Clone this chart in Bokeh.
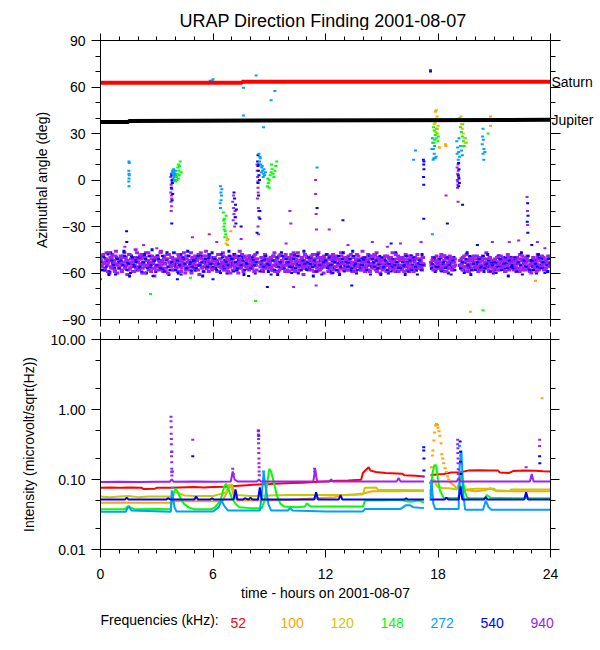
import math
from bokeh.plotting import figure
from bokeh.models import LinearAxis, LogAxis, FixedTicker, PrintfTickFormatter, Label, Range1d
from bokeh.layouts import column
from bokeh.embed import file_html
from bokeh.resources import INLINE

FONT = "Liberation Sans"

# ---------------- data ----------------
freqs = ["52", "100", "120", "148", "272", "540", "940"]
colors = ["#ff0000", "#ffa500", "#c8c800", "#00ff00", "#00a0ff", "#0000ff", "#a020f0"]

# Saturn / Jupiter directions (hour, deg)
saturn = [(0, 62.7), (7.55, 62.7), (7.55, 63.4), (24, 63.4)]
jupiter = [(0, 37.5), (1.5, 37.5), (1.5, 38.1), (24, 38.8)]

# 940 kHz band, one row per hour, 0.05 h apart (None = no data)
purple_band = [
    [-52,-56,-49,-54,-58,-51,-47,-55,-53,-60,-50,-57,-48,-54,-52,-59,-46,-55,-51,-57],
    [-53,-49,-58,-55,-50,-47,-56,-52,-61,-54,-48,-57,-51,-53,-59,-50,-55,-45,-52,-56],
    [-57,-51,-54,-48,-60,-53,-50,-56,-47,-55,-52,-58,-49,-54,-51,-57,-53,-62,-50,-55],
    [-49,-55,-52,-58,-46,-53,-57,-50,-54,-59,-51,-48,-56,-53,-55,-50,-58,-52,-47,-54],
    [-56,-52,-59,-50,-54,-48,-57,-53,-51,-55,-60,-49,-53,-56,-52,-58,-47,-54,-51,-57],
    [-53,-58,-50,-55,-48,-61,-54,-51,-57,-49,-52,-56,-46,-55,-53,-59,-50,-54,-57,-52],
    [-50,-54,-57,-52,-59,-48,-55,-51,-56,-53,-47,-58,-52,-55,-50,-57,-54,-49,-60,-53],
    [-55,-51,-48,-56,-53,-58,-50,-54,-46,-57,-52,-55,-59,-49,-53,-56,-51,-54,-58,-50],
    [-52,-57,-54,-49,-55,-51,-58,-53,None,None,-56,-50,-54,-59,-52,-48,-55,-57,-51,-53],
    [-54,-50,-56,-52,-58,-47,-53,-55,-51,-59,-49,-54,-57,-52,-56,-50,-55,-48,-53,-58],
    [-51,-56,-53,-48,-57,-54,-50,-59,-52,-55,-47,-56,-53,-58,-50,-54,-61,-52,-55,-49],
    [-57,-53,-50,-55,-52,-58,-48,-54,-56,-51,-59,-53,-47,-55,-52,-57,-50,-54,-49,-56],
    [-53,-48,-55,-51,-57,-54,-60,-50,-53,-56,-52,-49,-58,-54,-51,-55,-47,-57,-53,-50],
    [-55,-52,-58,-54,-49,-56,-51,-53,-59,-50,-55,-57,-52,-48,-54,-56,-51,-58,-53,-46],
    [-50,-56,-53,-57,-52,-48,-55,-59,-51,-54,-56,-50,-53,-58,-47,-55,-52,-54,-60,-51],
    [-54,-51,-57,-49,-55,-53,-58,-50,-56,-52,-54,-47,-57,-53,-59,-51,-55,-49,-56,-52],
    [-52,-58,-50,-55,-53,-48,-56,-54,-51,-59,-53,-49,-55,-57,-52,-50,-58,-54,-56,-51],
    [-55,-52,-57,-50,-54,None,None,None,None,None,None,None,-53,-57,-50,-55,-52,-58,-49,-54],
    [-51,-56,-53,-48,-57,-54,-52,-59,-50,-55,-53,-57,-49,-54,-56,-51,-58,-53,-55,None],
    [None,None,None,-52,-57,-54,-50,-56,-53,-59,-48,-55,-52,-57,-51,-54,-58,-50,-53,-56],
    [-54,-49,-56,-52,-58,-53,-50,-55,-57,-51,-54,-47,-56,-53,-59,-50,-55,-52,-57,-54],
    [-51,-57,-53,-55,-49,-58,-52,-54,-56,-50,-53,-59,-51,-55,-48,-57,-54,-52,-56,-50],
    [-56,-52,-54,-59,-50,-53,-57,-48,-55,-52,-58,-51,-54,-56,-53,-49,-57,-52,-55,-60],
    [-53,-50,-55,-57,-52,-54,-48,-58,-51,-56,-53,-55,-50,-57,-54,-52,-59,-49,-55,-53],
]
purple_band2 = [
    [-50,-55,-58,-48,-53,-57,-51,-54,-59,-47,-52,-56,-50,-55,-53,-58,-49,-54,-60,-51],
    [-56,-51,-54,-59,-49,-53,-57,-50,-55,-52,-58,-48,-54,-56,-51,-53,-59,-50,-57,-47],
    [-53,-58,-49,-55,-51,-57,-54,-60,-50,-52,-56,-47,-55,-53,-59,-49,-54,-57,-51,-56],
    [-58,-50,-56,-53,-47,-55,-52,-59,-49,-54,-57,-51,-60,-48,-53,-56,-50,-55,-58,-52],
    [-51,-57,-53,-48,-56,-52,-59,-50,-55,-47,-54,-58,-51,-57,-49,-53,-56,-60,-50,-54],
    [-55,-49,-57,-52,-58,-50,-54,-47,-56,-53,-59,-51,-55,-49,-57,-52,-48,-56,-53,-58],
    [-57,-52,-50,-55,-53,-59,-48,-56,-51,-57,-54,-49,-58,-53,-55,-51,-59,-52,-56,-50],
    [-52,-58,-54,-50,-57,-49,-55,-60,-53,-51,-56,-48,-54,-58,-50,-55,-52,-57,-49,-56],
    [-54,-50,-57,-53,-59,-48,-55,-51,None,None,None,-53,-58,-50,-55,-57,-49,-54,-56,-52],
    [-57,-53,-51,-58,-49,-55,-59,-52,-56,-50,-54,-58,-48,-55,-53,-57,-51,-59,-50,-55],
    [-53,-59,-50,-55,-52,-58,-47,-54,-57,-51,-56,-49,-58,-52,-55,-50,-57,-53,-48,-56],
    [-50,-55,-58,-52,-56,-49,-54,-51,-59,-53,-48,-57,-55,-50,-58,-54,-52,-56,-60,-51],
    [-56,-52,-54,-59,-49,-57,-51,-55,-48,-58,-53,-56,-50,-55,-59,-52,-57,-49,-54,-58],
    [-51,-57,-50,-55,-58,-52,-56,-48,-54,-57,-50,-53,-59,-51,-56,-49,-55,-52,-58,-54],
    [-57,-53,-59,-50,-55,-52,-58,-51,-54,-49,-57,-55,-48,-56,-52,-59,-50,-57,-53,-56],
    [-52,-58,-50,-56,-53,-59,-49,-55,-51,-57,-50,-54,-58,-52,-55,-48,-57,-53,-59,-50],
    [-55,-50,-57,-52,-59,-51,-54,-58,-49,-55,-57,-52,-50,-56,-59,-53,-51,-55,-48,-57],
    [-51,-56,-53,-58,-50,-55,None,None,None,None,None,None,None,-55,-52,-58,-50,-56,-53,-57],
    [-57,-52,-55,-50,-58,-53,-56,-49,-55,-59,-51,-54,-57,-52,-50,-58,-53,-56,-51,None],
    [None,None,None,None,-55,-51,-58,-53,-49,-56,-52,-57,-54,-59,-50,-55,-52,-57,-49,-54],
    [-51,-57,-53,-59,-50,-55,-58,-52,-49,-56,-53,-57,-51,-54,-58,-50,-56,-52,-55,-59],
    [-57,-52,-56,-50,-58,-53,-55,-49,-57,-54,-51,-56,-59,-52,-55,-50,-58,-53,-57,-51],
    [-53,-58,-50,-56,-52,-57,-54,-59,-51,-55,-49,-57,-53,-58,-50,-56,-52,-55,-59,-54],
    [-58,-54,-51,-56,-53,-59,-50,-55,-57,-52,-56,-49,-54,-58,-51,-57,-53,-55,-50,-56],
]

# 540 kHz band, one row per hour, 0.1 h apart
blue_band = [
    [-55,-49,-58,-52,-61,-47,-54,-57,-50,-53],
    [-51,-59,-46,-56,-53,-62,-49,-55,-52,-58],
    [-57,-50,-54,-48,-60,-53,-56,-45,-52,-59],
    [-49,-56,-52,-58,-54,-47,-61,-53,-50,-55],
    [-53,-60,-48,-55,-51,-57,-46,-54,-59,-52],
    [-58,-51,-55,-49,-62,-53,-57,-50,-54,-47],
    [-50,-57,-53,-59,-48,-55,-52,-60,-46,-56],
    [-54,-48,-58,-52,-56,-50,-61,-53,-57,-49],
    [-56,-52,-60,-47,None,-54,-58,-51,-55,-59],
    [-52,-58,-49,-55,-61,-53,-47,-57,-50,-54],
    [-59,-51,-56,-48,-54,-60,-52,-55,-46,-57],
    [-53,-57,-50,-62,-55,-49,-58,-52,-56,-51],
    [-48,-55,-59,-52,-57,-50,-54,-61,-53,-47],
    [-56,-50,-53,-58,-46,-55,-60,-52,-57,-51],
    [-52,-59,-55,-49,-56,-53,-48,-58,-54,-61],
    [-57,-51,-54,-60,-50,-56,-52,-47,-59,-55],
    [-50,-56,-61,-53,-57,-49,-55,-52,-58,-54],
    [-55,-48,None,None,None,None,-57,-51,-59,-53],
    [-52,-58,-54,-49,-56,-60,-53,-57,-50,None],
    [None,-55,-51,-58,-53,-47,-56,-61,-52,-57],
    [-54,-50,-57,-52,-59,-55,-48,-56,-53,-60],
    [-58,-53,-49,-56,-51,-57,-54,-62,-50,-55],
    [-51,-57,-54,-59,-47,-53,-56,-50,-58,-52],
    [-56,-52,-60,-48,-55,-51,-57,-53,-59,-54],
]
blue_band2 = [
    [-53,-58,-50,-56,-48,-59,-52,-55,-61,-51],
    [-57,-52,-55,-49,-58,-54,-60,-50,-56,-53],
    [-50,-56,-59,-53,-51,-57,-49,-55,-62,-52],
    [-55,-51,-57,-49,-59,-52,-56,-58,-53,-47],
    [-58,-52,-55,-61,-50,-54,-57,-49,-53,-56],
    [-52,-57,-49,-55,-53,-59,-51,-56,-48,-54],
    [-56,-51,-58,-54,-60,-50,-57,-53,-55,-49],
    [-51,-59,-53,-57,-49,-55,-52,-58,-54,-62],
    [-57,-50,-55,-53,None,-59,-52,-56,-49,-54],
    [-55,-61,-52,-58,-50,-56,-53,-49,-57,-51],
    [-53,-56,-60,-51,-57,-49,-55,-58,-52,-54],
    [-58,-50,-54,-56,-52,-59,-48,-55,-61,-53],
    [-52,-57,-50,-55,-60,-53,-58,-49,-56,-51],
    [-59,-53,-56,-51,-57,-49,-54,-58,-52,-55],
    [-55,-50,-58,-53,-61,-51,-56,-52,-57,-49],
    [-50,-56,-52,-58,-54,-59,-51,-55,-53,-57],
    [-57,-53,-55,-49,-59,-52,-58,-50,-56,-61],
    [-52,-58,-55,None,None,None,None,-54,-50,-56],
    [-56,-51,-59,-53,-57,-50,-55,-61,-52,-58],
    [None,None,-57,-53,-60,-51,-55,-49,-58,-54],
    [-58,-53,-51,-56,-49,-57,-54,-52,-59,-55],
    [-53,-60,-56,-51,-58,-54,-50,-57,-52,-56],
    [-57,-50,-59,-53,-55,-61,-52,-56,-49,-58],
    [-52,-58,-54,-56,-50,-57,-53,-60,-55,-51],
]

# other direction-finding points (hour, deg)
pts_272 = [
    (1.52,12),(1.53,11),(1.51,6),(1.52,4),(1.53,3),(1.52,1),(1.51,-1),(1.52,-4),
    (3.85,6),(3.88,4),(3.9,3),(3.92,5),(3.95,2),(3.97,4),(4.0,6),(3.87,1),(4.02,3),(3.83,5),(3.9,7),(3.95,0),
    (6.4,-4),(6.42,-8),(6.45,-10),(6.38,-15),(6.4,-18),(6.43,-13),(6.47,-6),
    (8.45,17),(8.5,15),(8.48,12),(8.55,10),(8.6,8),(8.65,6),(8.7,4),(8.75,3),(8.62,9),(8.52,14),(8.58,5),(8.68,2),(8.8,5),(8.72,7),
    (5.85,64),(5.95,64),(6.0,65),(7.6,63),(7.62,59.5),(7.62,41.6),(8.3,67.4),(8.7,34),(9.1,51.5),(9.3,57.4),(11.55,8),(16.8,19),(16.7,13),(17.7,-35),
    (17.7,27),(17.72,24),(17.75,20),(17.8,17),(17.78,14),(17.85,14),(17.82,22),(17.9,15),(17.74,13),(17.68,20),
    (19.0,25),(19.05,21),(19.1,18),(19.15,15),(19.08,13),(19.2,22),(19.25,19),(19.12,27),(19.3,16),(19.02,17),
    (20.4,33),(20.38,28),(20.42,26),(20.36,23),(20.45,20),(20.4,17),(20.44,13),(20.5,18),
]
pts_148 = [
    (4.0,-1),(4.05,2),(4.1,4),(4.12,8),(4.15,10),(4.18,6),(4.2,3),(4.25,12),(4.08,0),(4.3,5),(4.15,1),(4.22,9),
    (6.55,-21),(6.6,-25),(6.62,-28),(6.58,-30),(6.65,-33),(6.6,-32),(6.68,-35),(6.7,-23),(6.63,-37),(6.57,-26),
    (8.9,-4),(8.95,-2),(9.0,0),(9.05,3),(9.1,5),(9.15,7),(9.2,4),(9.25,2),(9.3,6),(9.35,9),(9.4,12),(8.92,1),(9.0,-5),(9.12,10),
    (17.76,34),(17.8,32),(17.85,29),(17.9,27),(17.95,30),(18.0,25),(17.82,26),(17.92,33),(18.02,28),(17.78,24),
    (19.2,34),(19.25,31),(19.3,28),(19.35,25),(19.28,22),(19.4,22),(19.45,27),(19.5,24),(19.32,36),
    (2.67,-73.5),(4.8,-63),(8.27,-78),(8.7,63),(20.4,-84),(20.67,30),
]
pts_120 = [
    (6.72,-37),(6.75,-39),(6.7,-41),
    (17.8,36),(17.85,37),(17.98,33),(17.88,31),(18.07,21),(17.93,39),(18.0,35),
    (19.15,40),(19.2,38),(19.25,36),(19.3,33),(19.35,30),(19.4,27),(19.22,41),(19.45,24),
]
pts_100 = [
    (6.95,-33),(6.8,-38),(6.78,-42),
    (17.87,44),(17.9,45),(18.04,38),(18.4,23),(18.42,22),(18.07,21),(17.95,41),
    (20.8,41),(20.8,35),(19.73,-85),(23.2,-65),
]
pts_940 = [
    (3.75,2),(3.77,-3),(3.8,-6),(3.78,-10),(3.76,-14),(3.79,-17),(3.77,-20),(3.8,0),(3.82,-1),(3.75,-8),(3.78,4),(3.8,-12),
    (7.05,-14),(7.1,-18),(7.12,-22),(7.08,-26),(7.15,-30),(7.2,-24),(7.1,-10),(7.18,-20),
    (8.35,10),(8.38,2),(8.4,-5),(8.37,-12),(8.42,-18),(8.45,-24),(8.4,-30),(8.43,-35),(8.36,6),(8.39,-1),(8.41,-8),
    (19.02,8),(19.05,4),(19.03,0),(19.06,-3),(19.04,-5),(19.08,6),(19.1,2),(19.05,-1),(19.07,10),
    (22.75,-11),(22.78,-29),(22.77,-20),
    (0.0,-64),(1.3,-43),(2.3,-42),(3.0,-44),(4.9,-37),(5.8,-35),(6.2,-40),(7.5,-38),(9.9,-41),(10.1,-20),(10.15,-28),
    (10.3,-69),(11.5,-68),(11.47,0),(11.47,-9),(11.5,-22),(11.52,-32),(12.2,-32),(13.2,-42),(14.5,-40),(15.3,-43),
    (16.0,-41),(17.1,-40),(18.43,-10),(19.07,-14),(20.9,-40),(21.8,-40),(22.3,-39),(23.3,-40),(23.7,-44),(17.6,71),
]
pts_540 = [
    (3.8,3),(3.83,-2),(3.78,-5),(3.85,-9),(3.8,-28),(3.82,-13),(3.84,0),
    (7.12,-8),(7.15,-12),(7.2,-16),(7.18,-24),(7.22,-28),(7.25,-19),
    (8.38,12),(8.4,9),(8.42,6),(8.45,3),(8.4,-2),(8.43,-10),(8.45,-20),(8.5,-25),(8.48,0),(8.44,10),(8.4,16),
    (17.22,13),(17.24,10),(17.25,7),(17.23,2),(17.24,-3),(17.25,12),
    (19.1,11),(19.12,7),(19.08,3),(19.14,-2),(19.1,-4),(19.12,1),
    (22.78,-15),(22.8,-23),(22.79,-34),(22.76,-27),
    (1.39,-33),(1.4,-40),(4.1,-64),(6.0,-64),(7.5,-30),(8.35,-34),(8.5,-20),(8.9,-69),(11.55,-18),(12.93,-26),
    (13.4,-68),(15.5,-41),(17.24,-25),(18.5,-28),(19.31,-16),(20.1,-42),(23.0,-42),(17.6,70),
]

# intensity time series (hour, microvolt/sqrt(Hz)); None = data gap
int_52 = [(0,0.076),(0.5,0.077),(1,0.076),(1.6,0.077),(2.2,0.076),(2.3,0.073),(2.9,0.074),(3.0,0.076),(3.7,0.076),
          (4.2,0.077),(5,0.078),(5.5,0.077),(6,0.078),(6.6,0.079),(7.2,0.081),(7.8,0.083),(8.4,0.085),(9,0.086),
          (9.6,0.088),(10.2,0.089),(10.8,0.09),(11.4,0.092),(12,0.094),(12.6,0.096),(13.2,0.097),(13.9,0.099),
          (14.0,0.125),(14.3,0.15),(14.4,0.134),(14.7,0.128),(15.2,0.124),(15.8,0.122),(16.1,0.121),(16.2,0.115),
          (16.8,0.113),(17.25,0.11),(17.4,None),(17.6,0.115),(17.9,0.118),(18.3,0.12),(18.7,0.126),(19.2,0.127),
          (19.6,0.134),(20.2,0.136),(20.8,0.135),(21.2,0.134),(21.3,0.126),(21.8,0.124),(22.0,0.132),(22.6,0.134),
          (23.2,0.133),(23.6,0.131),(24,0.13)]
int_100 = [(0,0.0465),(1,0.047),(2,0.0465),(3,0.0465),(3.75,0.0465),(3.9,0.049),(4.5,0.049),(5.5,0.049),(6.5,0.049),
           (6.8,0.07),(6.95,0.085),(7.1,0.06),(7.3,0.05),(8,0.05),(9,0.05),(10,0.051),(10.5,0.052),(11,0.053),
           (12,0.055),(12.5,0.056),(13.0,0.06),(13.5,0.061),(14.0,0.063),(14.5,0.068),(15,0.068),(16,0.068),
           (17,0.069),(17.25,0.068),(17.4,None),(18.6,0.092),(18.8,0.085),(19.0,0.075),(19.5,0.07),(20,0.068),
           (20.5,0.07),(20.8,0.075),(21,0.07),(22,0.068),(23,0.068),(24,0.068)]
peak_100 = [(17.6,0.09),(17.65,0.15),(17.7,0.22),(17.73,0.26),(17.78,0.36),(17.82,0.47),(17.87,0.59),(17.92,0.62),
            (17.97,0.6),(18.0,0.55),(18.05,0.49),(18.1,0.42),(18.16,0.33),(18.2,0.23),(18.25,0.2),(18.3,0.17),
            (18.38,0.145),(18.45,0.128),(18.52,0.11),(18.57,0.1)]
int_120 = [(0,0.057),(0.5,0.056),(1,0.057),(1.5,0.058),(2,0.056),(2.5,0.057),(3,0.057),(3.75,0.057),(3.85,0.06),
           (3.95,0.066),(4.2,0.063),(4.5,0.059),(5,0.058),(6,0.058),(6.7,0.065),(6.85,0.083),(7.0,0.085),(7.15,0.065),
           (7.3,0.06),(8,0.058),(9,0.059),(10,0.06),(11,0.06),(12,0.06),(13,0.06),(14.0,0.061),(14.1,0.076),
           (14.7,0.077),(14.8,0.071),(16,0.071),(17,0.07),(17.25,0.07),(17.4,None),(17.6,0.065),(17.7,0.09),
           (17.8,0.1),(17.9,0.085),(18.0,0.078),(18.3,0.075),(18.6,0.075),(19.0,0.072),(19.1,0.085),(19.3,0.075),
           (19.5,0.072),(20,0.074),(21,0.074),(21.1,0.068),(21.8,0.068),(21.9,0.072),(23,0.072),(24,0.072)]
int_148 = [(0,0.0376),(1.3,0.0376),(1.45,0.041),(1.6,0.04),(1.8,0.0376),(3.0,0.038),(3.75,0.0376),(3.85,0.06),
           (4.0,0.074),(4.1,0.068),(4.25,0.055),(4.45,0.045),(4.7,0.04),(5.0,0.0376),(5.9,0.0376),(6.1,0.04),
           (6.4,0.05),(6.6,0.08),(6.7,0.087),(6.85,0.07),(7.0,0.055),(7.2,0.045),(7.4,0.04),(8.0,0.039),(8.6,0.039),
           (8.75,0.05),(8.9,0.09),(9.0,0.142),(9.1,0.13),(9.25,0.09),(9.4,0.06),(9.6,0.045),(9.8,0.041),(10.5,0.04),
           (10.9,0.041),(11.0,0.046),(11.2,0.041),(12,0.041),(13,0.041),(14.0,0.041),(14.1,0.05),(15,0.05),
           (16,0.051),(16.5,0.048),(17,0.05),(17.25,0.047),(17.4,None),(17.6,0.06),(17.7,0.12),(17.8,0.16),
           (17.9,0.16),(18.0,0.1),(18.1,0.07),(18.3,0.055),(18.8,0.054),(19.1,0.055),(19.25,0.12),(19.35,0.09),
           (19.45,0.065),(19.55,0.055),(19.7,0.054),(20.5,0.054),(20.6,0.06),(20.8,0.055),(22,0.054),(23,0.054),(24,0.054)]
int_272 = [(0,0.0346),(1.35,0.0346),(1.5,0.042),(1.65,0.036),(3.75,0.0346),(3.8,0.07),(3.95,0.04),(4.05,0.035),
           (6,0.035),(6.3,0.04),(6.45,0.05),(6.6,0.042),(6.8,0.036),(8.5,0.036),(8.6,0.06),(8.7,0.128),(8.8,0.08),
           (8.95,0.045),(9.1,0.036),(10.0,0.036),(10.1,0.039),(10.25,0.036),(12,0.035),(14.0,0.035),(14.1,0.038),
           (16.0,0.038),(16.3,0.043),(16.5,0.043),(16.7,0.04),(17.25,0.039),(17.4,None),(17.6,0.05),(17.65,0.1),
           (17.75,0.045),(17.85,0.038),(19.1,0.038),(19.15,0.15),(19.25,0.26),(19.35,0.06),(19.45,0.037),
           (20.4,0.037),(20.55,0.05),(20.7,0.04),(20.85,0.037),(24,0.037)]
int_540 = [(0,0.0516),(1.3,0.0516),(1.4,0.055),(1.5,0.0516),(3.5,0.0516),(3.6,0.054),(3.75,0.0516),(3.85,0.0516),
           (5.0,0.0516),(5.1,0.057),(5.2,0.0516),(5.85,0.0516),(5.95,0.054),(6.05,0.0516),(7.1,0.0516),(7.2,0.072),
           (7.3,0.0516),(7.6,0.0516),(7.7,0.054),(7.9,0.0516),(8.0,0.055),(8.1,0.0516),(8.4,0.0516),(8.5,0.077),
           (8.6,0.0516),(9.0,0.0516),(11.4,0.0516),(11.5,0.066),(11.6,0.0516),(12.7,0.0516),(12.8,0.06),(12.9,0.0516),
           (16.2,0.0516),(16.3,0.054),(16.4,0.0516),(17.25,0.0516),(17.4,None),(17.6,0.0516),(18.35,0.0516),
           (18.45,0.055),(18.55,0.0516),(19.1,0.0516),(19.2,0.08),(19.3,0.0516),(20.45,0.0516),(20.55,0.056),
           (20.65,0.0516),(22.6,0.0516),(22.7,0.066),(22.8,0.0516),(24,0.0516)]
int_940 = [(0,0.092),(1,0.093),(2,0.092),(3,0.093),(3.7,0.093),(3.8,0.1),(3.9,0.093),(5,0.094),(6,0.093),(6.95,0.094),
           (7.05,0.13),(7.15,0.1),(7.3,0.094),(8,0.094),(8.35,0.094),(8.45,0.1),(8.55,0.094),(9.5,0.094),(11.35,0.094),
           (11.45,0.14),(11.55,0.094),(12.2,0.094),(12.3,0.1),(12.4,0.094),(15.8,0.094),(15.9,0.105),(16.0,0.094),
           (17.25,0.094),(17.4,None),(17.6,0.094),(19.0,0.094),(19.1,0.105),(19.2,0.094),(22.9,0.094),(23.0,0.12),
           (23.1,0.094),(24,0.094)]
spk_940 = [(3.76,0.79),(3.76,0.68),(3.77,0.56),(3.77,0.45),(3.78,0.38),(3.78,0.32),(3.79,0.25),(3.79,0.215),
           (3.8,0.176),(3.8,0.142),(3.81,0.128),(3.81,0.114),(4.92,0.37),(8.42,0.49),(8.42,0.44),(8.43,0.38),
           (8.43,0.33),(8.44,0.28),(8.44,0.24),(8.45,0.2),(8.45,0.17),(8.46,0.15),(8.46,0.13),(8.47,0.115),
           (11.42,0.142),(11.42,0.13),(19.05,0.37),(19.05,0.32),(19.06,0.28),(19.06,0.24),(19.07,0.2),(19.07,0.17),
           (19.08,0.14),(19.08,0.12),(23.42,0.37),(23.42,0.3),(7.05,0.142),(7.08,0.12),(17.22,0.11),(22.7,0.15)]
spk_540 = [(3.8,0.25),(3.82,0.13),(4.92,0.215),(8.42,0.5),(8.44,0.42),(17.24,0.29),(17.24,0.26),(17.25,0.2),
           (17.25,0.134),(19.18,0.35),(19.2,0.25),(19.2,0.18),(19.22,0.12),(23.42,0.215),(23.43,0.17)]
spk_272 = [(3.85,0.076),(3.86,0.06),(8.7,0.13),(19.15,0.3),(19.2,0.22),(17.62,0.09),(17.63,0.07)]
spk_120 = [(23.55,1.45)]

x_major = [0, 6, 12, 18, 24]
y_major = [-90, -60, -30, 0, 30, 60, 90]
log_major = [0.01, 0.1, 1, 10]
log_minor = [0.02, 0.05, 0.2, 0.5, 2, 5]


def xy(pairs):
    xs = [p[0] for p in pairs]
    ys = [float("nan") if p[1] is None else p[1] for p in pairs]
    return xs, ys


def band_xy(rows, step, offset):
    xs, ys = [], []
    for h, row in enumerate(rows):
        for i, v in enumerate(row):
            if v is not None:
                xs.append(h + i * step + offset)
                ys.append(v)
    return xs, ys


def style(ax, labels=True, mo=9, mi=5):
    ax.axis_line_color = "black"
    ax.major_tick_line_color = "black"
    ax.minor_tick_line_color = "black"
    ax.major_tick_in = 0
    ax.minor_tick_in = 0
    ax.major_tick_out = mo
    ax.minor_tick_out = mi
    ax.major_label_text_font = FONT
    ax.major_label_text_font_size = "14px"
    ax.major_label_text_color = "black"
    ax.axis_label_text_font = FONT
    ax.axis_label_text_font_size = "14px"
    ax.axis_label_text_font_style = "normal"
    ax.axis_label_text_color = "black"
    if not labels:
        ax.major_label_text_font_size = "1px"
        ax.major_label_text_alpha = 0
        ax.major_label_standoff = 0


def dots(p, xs, ys, c, w=3, h=2):
    p.rect(xs, ys, width=w, height=h, width_units="screen", height_units="screen",
           fill_color=c, line_color=None)


def text_strip(height):
    f = figure(width=600, height=height, min_border=0, x_range=Range1d(0, 600), y_range=Range1d(0, height),
               x_axis_location=None, y_axis_location=None, output_backend="svg", toolbar_location=None)
    f.outline_line_color = None
    f.grid.visible = False
    f.frame_align = False
    return f


# ---------------- title strip ----------------
t_fig = text_strip(30)
t_fig.add_layout(Label(x=325, y=10, x_units="screen", y_units="screen",
                       text="URAP Direction Finding  2001-08-07", text_font=FONT, text_font_size="18px",
                       text_baseline="alphabetic", text_align="center", text_color="black"))

# ---------------- top panel ----------------
p1 = figure(frame_width=450, frame_height=279, min_border_left=100, min_border_right=50,
            min_border_top=10, min_border_bottom=10, x_range=Range1d(0, 24), y_range=Range1d(-90, 90),
            x_axis_location=None, y_axis_location=None, output_backend="svg", toolbar_location=None)
p1.outline_line_color = "black"
p1.grid.visible = False

xt = FixedTicker(ticks=x_major, minor_ticks=list(range(0, 25)))
yt = FixedTicker(ticks=y_major, minor_ticks=list(range(-90, 91, 10)))
ax = LinearAxis(ticker=yt, axis_label="Azimuthal angle (deg)")
style(ax); ax.major_label_standoff = 6; ax.axis_label_standoff = 9
p1.add_layout(ax, "left")
ax = LinearAxis(ticker=yt); style(ax, labels=False, mo=10); p1.add_layout(ax, "right")
ax = LinearAxis(ticker=xt); style(ax, labels=False, mo=7, mi=4); p1.add_layout(ax, "above")
ax = LinearAxis(ticker=xt); style(ax, labels=False, mo=7, mi=4); p1.add_layout(ax, "below")

# planet names, written as labels of a tick-less right axis
planet_y = [saturn[-1][1], jupiter[-1][1]]
ax = LinearAxis(ticker=FixedTicker(ticks=planet_y, minor_ticks=[]),
                major_label_overrides={planet_y[0]: "Saturn", planet_y[1]: "Jupiter"})
style(ax, mo=0, mi=0)
ax.axis_line_color = None
ax.major_label_standoff = -9
p1.add_layout(ax, "right")

bx, by = band_xy(purple_band, 0.05, 0.025)
dots(p1, bx, by, colors[6], 4, 3)
bx, by = band_xy(blue_band, 0.1, 0.05)
dots(p1, bx, by, colors[5], 3, 3)
bx, by = band_xy(purple_band2, 0.05, 0.0)
dots(p1, bx, by, colors[6], 4, 3)
bx, by = band_xy(blue_band2, 0.1, 0.0)
dots(p1, bx, by, colors[5], 3, 2)
for pts, c in [(pts_940, colors[6]), (pts_540, colors[5]), (pts_272, colors[4]), (pts_148, colors[3]),
               (pts_120, colors[2]), (pts_100, colors[1])]:
    xs, ys = xy(pts)
    dots(p1, xs, ys, c)

xs, ys = xy(saturn)
p1.line(xs, ys, line_color="#ff0000", line_width=4)
xs, ys = xy(jupiter)
p1.line(xs, ys, line_color="black", line_width=4)

# ---------------- bottom panel ----------------
p2 = figure(frame_width=450, frame_height=210, min_border_left=100, min_border_right=50,
            min_border_top=10, min_border_bottom=58, x_range=Range1d(0, 24), y_range=Range1d(0.01, 10),
            y_axis_type="log", x_axis_location=None, y_axis_location=None,
            output_backend="svg", toolbar_location=None)
p2.outline_line_color = "black"
p2.grid.visible = False

lt = FixedTicker(ticks=log_major, minor_ticks=log_minor)
ax = LogAxis(ticker=lt, formatter=PrintfTickFormatter(format="%.2f"),
             axis_label="Intensity (microvolt/sqrt(Hz))")
style(ax); ax.major_label_standoff = 6; ax.axis_label_standoff = 10
p2.add_layout(ax, "left")
ax = LogAxis(ticker=lt); style(ax, labels=False); p2.add_layout(ax, "right")
ax = LinearAxis(ticker=xt); style(ax, labels=False, mo=7, mi=4); p2.add_layout(ax, "above")
ax = LinearAxis(ticker=xt, axis_label="time - hours on 2001-08-07")
style(ax, mo=8, mi=4); ax.major_label_standoff = 11; ax.axis_label_standoff = 3
p2.add_layout(ax, "below")

series = [int_52, int_100, int_120, int_148, int_272, int_540, int_940]
for s, c in zip(series, colors):
    xs, ys = xy(s)
    p2.line(xs, ys, line_color=c, line_width=2)
for pts, c in [(peak_100, colors[1]), (spk_120, colors[2]), (spk_272, colors[4]), (spk_540, colors[5]),
               (spk_940, colors[6])]:
    xs, ys = xy(pts)
    dots(p2, xs, ys, c)

# ---------------- frequency key strip ----------------
k_fig = text_strip(35)
k_fig.add_layout(Label(x=100, y=15, x_units="screen", y_units="screen", text="Frequencies (kHz):",
                       text_font=FONT, text_font_size="14px", text_color="black"))
for i, (f, c) in enumerate(zip(freqs, colors)):
    k_fig.add_layout(Label(x=230 + 50 * i, y=15, x_units="screen", y_units="screen", text=f,
                           text_font=FONT, text_font_size="14px", text_color=c))

page = column(t_fig, p1, p2, k_fig)
open("out.html", "w").write(file_html(page, INLINE))
